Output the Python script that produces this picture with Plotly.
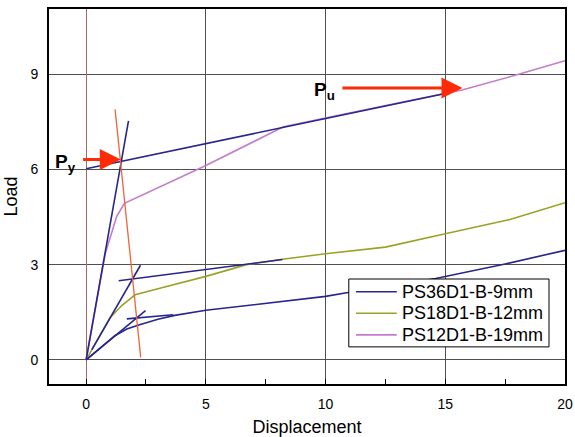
import plotly.graph_objects as go

# ---- data ----
series_names = ["PS36D1-B-9mm", "PS18D1-B-12mm", "PS12D1-B-19mm"]
series_colors = ["#26268c", "#9aa226", "#c47ccc"]

x36 = [0, 0.7, 1.2, 1.7, 2.2, 3.0, 3.7, 5, 7.5, 10, 11, 12.5, 14.6, 17.5, 20]
y36 = [0, 0.44, 0.76, 0.97, 1.1, 1.28, 1.4, 1.56, 1.77, 2.0, 2.13, 2.3, 2.56, 3.02, 3.45]

x18 = [0, 1.0, 1.5, 2.05, 3.2, 5, 6.7, 8.2, 10, 12.5, 15, 17.7, 20]
y18 = [0, 1.33, 1.72, 2.05, 2.28, 2.63, 3.0, 3.17, 3.34, 3.55, 3.97, 4.42, 4.95]

x12 = [0, 0.8, 1.28, 1.6, 5, 8.24, 12, 15.7, 18.1, 20]
y12 = [0, 3.35, 4.52, 4.93, 6.12, 7.34, 7.93, 8.5, 9.0, 9.42]

# construction (fitting) lines, each [x0, x1], [y0, y1]
fit_x = [[0, 1.77], [0, 15.0], [0.24, 2.27], [1.36, 8.2], [0, 2.48], [1.7, 3.64]]
fit_y = [[0, 7.53], [6.02, 8.39], [0.32, 2.98], [2.49, 3.16], [0, 1.55], [1.29, 1.42]]

orange_x = [1.21, 2.28]
orange_y = [7.89, 0.08]

# arrows: tail x, head x, y
py_arrow = [-0.25, 1.45, 6.31]
pu_arrow = [10.58, 15.72, 8.56]

x_ticks = [0, 5, 10, 15, 20]
y_ticks = [0, 3, 6, 9]

FONT = "Arial, Liberation Sans, sans-serif"
BLUE = "#26268c"
RED = "#ff2a08"

fig = go.Figure()
for xs, ys, name, col in zip([x36, x18, x12], [y36, y18, y12], series_names, series_colors):
    fig.add_trace(go.Scatter(x=xs, y=ys, mode="lines", name=name, showlegend=False,
                             line=dict(color=col, width=1.6)))

for fx, fy in zip(fit_x, fit_y):
    fig.add_trace(go.Scatter(x=fx, y=fy, mode="lines", showlegend=False,
                             line=dict(color=BLUE, width=1.6), hoverinfo="skip"))

fig.add_trace(go.Scatter(x=orange_x, y=orange_y, mode="lines", showlegend=False,
                         line=dict(color="#f06438", width=1.3), hoverinfo="skip"))

for (tx, hx, yy), lab in [(py_arrow, "P<sub>y</sub>"), (pu_arrow, "P<sub>u</sub>")]:
    fig.add_annotation(x=hx, y=yy, ax=tx, ay=yy, xref="x", yref="y", axref="x", ayref="y",
                       showarrow=True, arrowhead=2, arrowsize=1.4, arrowwidth=3,
                       arrowcolor=RED, text=" ")
    fig.add_annotation(x=tx, y=yy, xref="x", yref="y", text="<b>" + lab + "</b>",
                       showarrow=False, xanchor="right", yanchor="middle", xshift=-2, yshift=-3,
                       font=dict(family=FONT, size=19, color="black"))

# ---- manual legend (box, line samples, labels) in paper coordinates ----
leg_x0, leg_x1, leg_y0, leg_y1 = 0.581, 0.969, 0.099, 0.28
row_y = [0.246, 0.1885, 0.131]
fig.add_shape(type="rect", xref="paper", yref="paper", x0=leg_x0, x1=leg_x1, y0=leg_y0, y1=leg_y1,
              line=dict(color="black", width=1), fillcolor="white", layer="above")
for name, col, ry in zip(series_names, series_colors, row_y):
    fig.add_shape(type="line", xref="paper", yref="paper", x0=0.595, x1=0.674, y0=ry, y1=ry,
                  line=dict(color=col, width=1.6), layer="above")
    fig.add_annotation(x=0.680, y=ry, xref="paper", yref="paper", text=name, showarrow=False,
                       xanchor="left", yanchor="middle",
                       font=dict(family=FONT, size=18, color="black"))

fig.update_layout(
    width=575, height=437,
    margin=dict(l=49, r=10, t=9, b=53),
    paper_bgcolor="white", plot_bgcolor="white",
    font=dict(family=FONT, color="black"),
    showlegend=False,
)
fig.update_xaxes(range=[-1.55, 20], tickvals=x_ticks, ticktext=[str(v) for v in x_ticks],
                 automargin=False, ticklabeloverflow="allow",
                 showgrid=True, gridcolor="#505050", gridwidth=1,
                 zeroline=True, zerolinecolor="#a86868", zerolinewidth=1,
                 showline=True, linecolor="black", linewidth=2, mirror=True,
                 ticks="inside", ticklen=5, tickcolor="black",
                 minor=dict(tick0=2.5, dtick=5, ticks="inside", ticklen=5, tickcolor="black", showgrid=False),
                 tickfont=dict(family=FONT, size=14), ticklabelstandoff=6,
                 title=dict(text="Displacement", font=dict(family=FONT, size=18), standoff=10))
fig.update_yaxes(range=[-0.76, 11.05], tickvals=y_ticks, ticktext=[str(v) for v in y_ticks],
                 automargin=False,
                 showgrid=True, gridcolor="#505050", gridwidth=1,
                 zeroline=True, zerolinecolor="#505050", zerolinewidth=1,
                 showline=True, linecolor="black", linewidth=2, mirror=True,
                 ticks="", tickfont=dict(family=FONT, size=14), ticklabelstandoff=6,
                 title=dict(text="Load", font=dict(family=FONT, size=18), standoff=8))

# remove the browser's default 8px body margin so the figure fills the window
fig.write_html("out.html", config={"displayModeBar": False},
               post_script="document.body.style.margin='0';document.body.style.overflow='hidden';")
